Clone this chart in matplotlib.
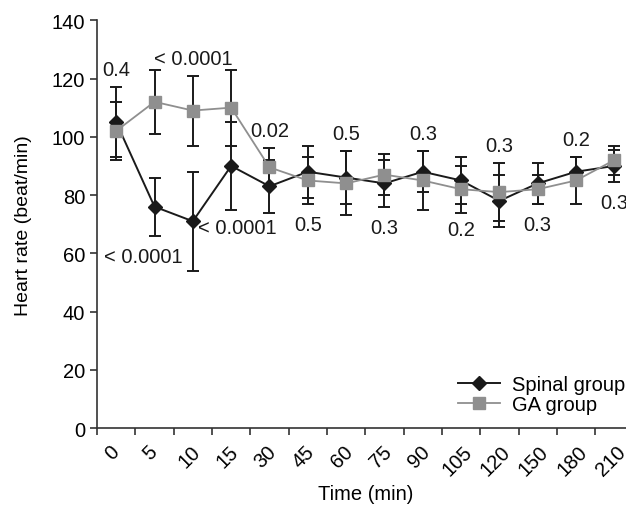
import matplotlib.pyplot as plt
import numpy as np

plt.rcParams['font.family'] = ['Liberation Sans', 'DejaVu Sans']

# data
times = ['0', '5', '10', '15', '30', '45', '60', '75', '90', '105', '120', '150', '180', '210']
spinal = [105, 76, 71, 90, 83, 88, 86, 84, 88, 85, 78, 84, 88, 90]
spinal_sd = [12, 10, 17, 15, 9, 9, 9, 8, 7, 8, 9, 7, 5, 5.5]
ga = [102, 112, 109, 110, 89.5, 85, 84, 87, 85, 82, 81, 82, 85, 92]
ga_sd = [10, 11, 12, 13, 6.5, 8, 11, 7, 10, 8, 10, 5, 8, 5]

# p-value labels: (bin position, y, text)
p_x = [0.5, 2.5, 1.2, 3.65, 4.5, 5.5, 6.5, 7.5, 8.5, 9.5, 10.5, 11.5, 12.5, 13.5]
p_y = [123, 127, 59, 69, 102, 70, 101, 69, 101, 68, 97, 70, 99, 77.5]
p_txt = ['0.4', '< 0.0001', '< 0.0001', '< 0.0001', '0.02', '0.5', '0.5',
         '0.3', '0.3', '0.2', '0.3', '0.3', '0.2', '0.3']

fig = plt.figure(figsize=(6.26, 5.06), dpi=100)
ax = fig.add_axes([0.155, 0.152, 0.857, 0.806])

x = np.arange(len(times)) + 0.5
dark = '#1a1a1a'
gray = '#8f8f8f'
fs = 14.5

# error bars
ax.errorbar(x, spinal, yerr=spinal_sd, fmt='none', ecolor=dark, elinewidth=1.4,
            capsize=4.5, capthick=1.4, zorder=2)
ax.errorbar(x, ga, yerr=ga_sd, fmt='none', ecolor=dark, elinewidth=1.4,
            capsize=4.5, capthick=1.4, zorder=2)

# lines with markers
ax.plot(x, spinal, color=dark, lw=1.4, marker='D', ms=7.5, mfc=dark, mec=dark,
        label='Spinal group', zorder=3)
ax.plot(x, ga, color=gray, lw=1.3, marker='s', ms=8, mfc=gray, mec=gray,
        label='GA group', zorder=4)

for px, py, t in zip(p_x, p_y, p_txt):
    ax.text(px, py, t, ha='center', va='center', fontsize=fs, color=dark)

ax.set_xlim(0, 14)
ax.set_ylim(0, 140)
ax.set_yticks(np.arange(0, 141, 20))
ax.set_xticks(np.arange(0, 14))
ax.set_xticklabels([])
# category labels sit between the tick marks (slightly left of bin centre)
ax.set_xticks(x - 0.1, minor=True)
ax.set_xticklabels(times, minor=True, rotation=45, ha='center', va='top', fontsize=fs)
ax.tick_params(axis='x', which='minor', length=0, pad=10)
ax.tick_params(axis='x', which='major', length=5, width=1.2, color='#333333')
ax.tick_params(axis='y', length=5, width=1.2, color='#333333', labelsize=fs)

for s in ['top', 'right']:
    ax.spines[s].set_visible(False)
for s in ['left', 'bottom']:
    ax.spines[s].set_linewidth(1.2)
    ax.spines[s].set_color('#333333')

ax.set_ylabel('Heart rate (beat/min)', fontsize=14, labelpad=14)
ax.set_xlabel('Time (min)', fontsize=fs)
ax.xaxis.set_label_coords(0.5, -0.137)

ax.legend(loc='lower left', bbox_to_anchor=(0.673, 0.034), frameon=False,
          fontsize=fs, handlelength=2.1, handletextpad=0.6, borderpad=0,
          borderaxespad=0, labelspacing=0.05)

plt.savefig('out.png', dpi=100)
